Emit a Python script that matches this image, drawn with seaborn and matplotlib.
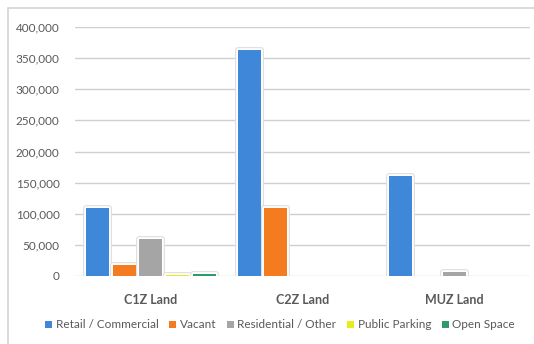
import matplotlib
matplotlib.use("Agg")
import matplotlib.pyplot as plt
import matplotlib.patheffects as pe
from matplotlib.patches import Rectangle
from matplotlib.ticker import FuncFormatter
import seaborn as sns
import pandas as pd

zones = ["C1Z Land", "C2Z Land", "MUZ Land"]
uses = ["Retail / Commercial", "Vacant", "Residential / Other", "Public Parking", "Open Space"]
retail = [110000, 363000, 160000]
vacant = [18000, 109000, 0]
residential = [60000, 0, 6500]
parking = [1000, 0, 0]
open_space = [4000, 0, 0]
colors = ["#3F87D8", "#F47B20", "#A5A5A5", "#E8EC1A", "#2F9A6A"]

rows = []
for name, vals in zip(uses, [retail, vacant, residential, parking, open_space]):
    for z, v in zip(zones, vals):
        rows.append({"zone": z, "use": name, "area": v})
df = pd.DataFrame(rows)

sns.set_theme(style="white")
plt.rcParams["font.family"] = ["Lato", "DejaVu Sans"]

fig = plt.figure(figsize=(5.34, 3.44), dpi=100)
ax = fig.add_axes([75 / 534, 1 - 276 / 344, 455 / 534, 249 / 344])

# chart frame
fig.patches.append(Rectangle((8 / 534, -0.1), 1.2, 1 - 8 / 344 + 0.1,
                             transform=fig.transFigure, fill=False,
                             edgecolor="#d4d4d4", linewidth=1.2))

sns.barplot(data=df, x="zone", y="area", hue="use", order=zones, hue_order=uses,
            palette=colors, width=0.88, gap=0.14, ax=ax, legend=False,
            edgecolor="none", linewidth=0, saturation=1)
# soft white halo with a faint grey rim around every non-empty bar
for p in ax.patches:
    if p.get_height() > 0:
        p.set_path_effects([
            pe.Stroke(linewidth=4.2, foreground="#dedede", joinstyle="round"),
            pe.Stroke(linewidth=2.6, foreground="white", joinstyle="round"),
            pe.Normal(),
        ])

ax.set_ylim(0, 400000)
ax.set_xlim(-0.5, 2.5)
ax.set_yticks(range(0, 400001, 50000))
ax.yaxis.set_major_formatter(FuncFormatter(lambda v, _: f"{int(v):,}"))
ax.grid(axis="y", color="#cfcfcf", linewidth=1.0)
ax.set_axisbelow(True)
for s in ax.spines.values():
    s.set_visible(False)
ax.set_xlabel("")
ax.set_ylabel("")
ax.tick_params(axis="y", length=0, pad=11, labelsize=8.5, labelcolor="#595959")
ax.tick_params(axis="x", length=0, pad=13, labelsize=9, labelcolor="#595959")
for t in ax.get_xticklabels():
    t.set_fontweight("bold")

handles = [Rectangle((0, 0), 1, 1, facecolor=c, edgecolor="none") for c in colors]
fig.legend(handles, uses, loc="center", bbox_to_anchor=(280 / 534, 1 - 325 / 344),
           ncol=5, frameon=False, fontsize=8.5, handlelength=0.6, handleheight=0.6,
           handletextpad=0.3, columnspacing=0.9, labelcolor="#595959")

fig.savefig("out.png", dpi=100)
